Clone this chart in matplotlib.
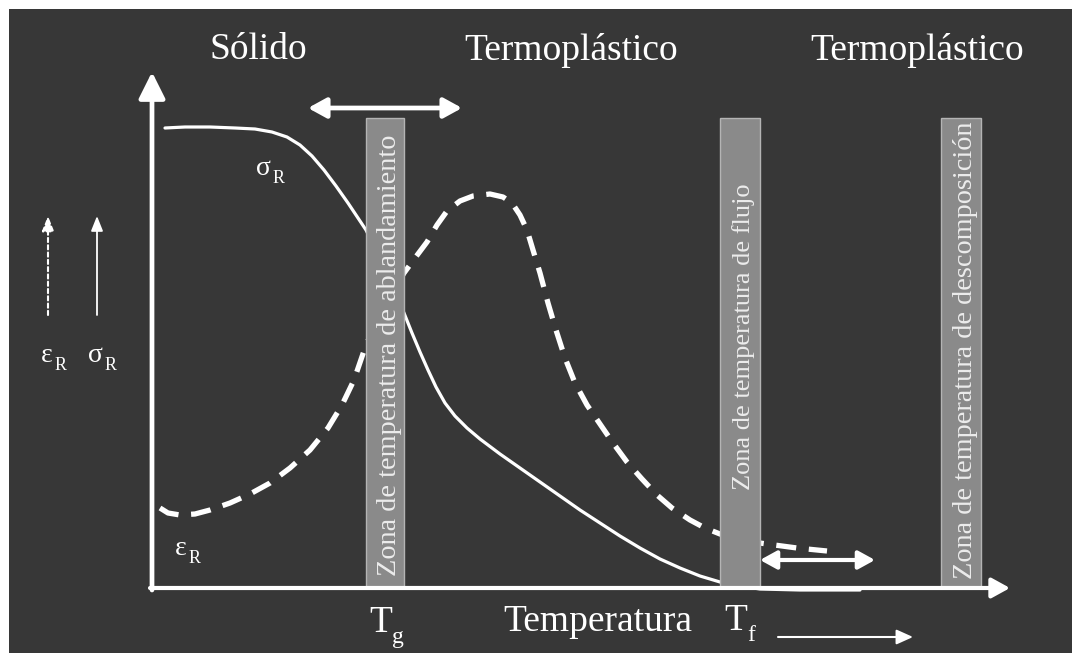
import matplotlib
matplotlib.use('Agg')
import matplotlib.pyplot as plt
import matplotlib.patches as mpatches

# units: pixels measured from the axis origin (temperature right, property up)
sigma_x = [13, 33, 58, 83, 103, 120, 135, 148, 160, 172, 184, 196, 208, 214, 233, 252, 260, 268, 276, 284,
           293, 303, 315, 328, 348, 368, 388, 408, 428, 448, 468, 488, 508, 528, 548, 568, 588, 608, 648, 708]
sigma_y = [460, 461, 461, 460, 459, 456, 451, 443, 432, 418, 402, 385, 367, 358, 320, 275, 255, 236, 218, 201,
           185, 172, 160, 149, 134, 120, 106, 92, 78, 65, 52, 40, 29, 20, 12, 6, 2, -1, -2, -2]
eps_x = [8, 16, 28, 43, 58, 78, 98, 118, 138, 158, 176, 190, 202, 214, 233, 252, 263, 275, 285, 295, 308, 321,
         338, 351, 360, 368, 375, 381, 388, 396, 404, 413, 423, 435, 448, 461, 475, 490, 505, 520, 538, 553, 568,
         593, 615, 645, 675]
eps_y = [80, 75, 73, 74, 78, 85, 94, 105, 120, 138, 160, 183, 208, 243, 283, 315, 330, 346, 363, 377, 387, 392,
         394, 391, 385, 373, 358, 338, 315, 285, 258, 230, 205, 183, 164, 145, 126, 109, 93, 80, 68, 60, 54,
         47, 44, 40, 37]

zone_left = [214, 568, 789]
zone_width = [38, 40, 40]
zone_height = 470
zone_labels = ['Zona de temperatura de ablandamiento', 'Zona de temperatura de flujo',
               'Zona de temperatura de descomposición']
zone_text_y = [233, 251, 238]
zone_fontsize = [20.3, 19, 20.3]

region_labels = ['Sólido', 'Termoplástico', 'Termoplástico']
region_x = [106, 419, 765]

BG = '#373737'
FG = 'white'
plt.rcParams['font.family'] = ['Liberation Serif', 'DejaVu Serif']

fig = plt.figure(figsize=(10.72, 6.53), dpi=100, facecolor=BG)
# thin white frame on the top and left edges
fig.patches.append(mpatches.Rectangle((0, 1 - 9 / 653), 1, 9 / 653, transform=fig.transFigure,
                                      facecolor='white', edgecolor='none', zorder=-10))
fig.patches.append(mpatches.Rectangle((0, 0), 9 / 1072, 1, transform=fig.transFigure,
                                      facecolor='white', edgecolor='none', zorder=-10))
ax = fig.add_axes([152 / 1072, 65 / 653, 860 / 1072, 516 / 653])
ax.set_zorder(1)
ax.set_xlim(0, 860)
ax.set_ylim(0, 516)
ax.axis('off')

# curves
ax.plot(sigma_x, sigma_y, color=FG, lw=2.3, solid_joinstyle='round', solid_capstyle='round', zorder=2, clip_on=False)
ax.plot(eps_x, eps_y, color=FG, lw=3.8, dashes=(3.8, 2.4), dash_capstyle='butt', zorder=2, clip_on=False)

# zone bars
for (x0, w, lab, ty, fs) in zip(zone_left, zone_width, zone_labels, zone_text_y, zone_fontsize):
    ax.add_patch(mpatches.Rectangle((x0, 0), w, zone_height, facecolor='#8a8a8a', edgecolor='#b4b4b4',
                                    lw=1, zorder=3))
    ax.text(x0 + w / 2 + 4, ty, lab, rotation=90, ha='center', va='center', color='#ececec',
            fontsize=fs, zorder=4)

# axes with arrowheads
ax.add_patch(mpatches.FancyArrowPatch((0, -2), (0, 516), arrowstyle='-|>,head_length=1,head_width=0.5',
                                      mutation_scale=16, lw=3.4, color=FG, zorder=5, clip_on=False,
                                      shrinkA=0, shrinkB=0))
ax.add_patch(mpatches.FancyArrowPatch((-2, 0), (858, 0), arrowstyle='-|>,head_length=1,head_width=0.55',
                                      mutation_scale=11, lw=3.0, color=FG, zorder=5, clip_on=False,
                                      shrinkA=0, shrinkB=0))

# double arrows and small arrow
ax.add_patch(mpatches.FancyArrowPatch((156, 480), (310, 480), arrowstyle='<|-|>,head_length=1,head_width=0.55',
                                      mutation_scale=11, lw=3.4, color=FG, zorder=5, clip_on=False,
                                      shrinkA=0, shrinkB=0))
ax.add_patch(mpatches.FancyArrowPatch((608, 28), (723, 28), arrowstyle='<|-|>,head_length=1,head_width=0.55',
                                      mutation_scale=10, lw=3.0, color=FG, zorder=5, clip_on=False,
                                      shrinkA=0, shrinkB=0))
ax.add_patch(mpatches.FancyArrowPatch((626, -49), (761, -49), arrowstyle='-|>,head_length=1,head_width=0.45',
                                      mutation_scale=10, lw=1.5, color=FG, zorder=5, clip_on=False,
                                      shrinkA=0, shrinkB=0))

# legend arrows at the left
ax.add_patch(mpatches.FancyArrowPatch((-104, 273), (-104, 372), arrowstyle='-|>,head_length=1,head_width=0.4',
                                      mutation_scale=9, lw=1.5, color=FG, linestyle=(0, (2, 1.5)),
                                      zorder=5, clip_on=False, shrinkA=0, shrinkB=0))
ax.add_patch(mpatches.FancyArrowPatch((-55, 273), (-55, 372), arrowstyle='-|>,head_length=1,head_width=0.4',
                                      mutation_scale=9, lw=1.3, color=FG, zorder=5, clip_on=False,
                                      shrinkA=0, shrinkB=0))


def sub_label(x, y, base, sub, size, subsize, dx=1, dy=-6):
    ax.text(x, y, base, ha='right', va='baseline', color=FG, fontsize=size, clip_on=False)
    ax.annotate(sub, xy=(x, y), xytext=(dx, dy), textcoords='offset points', ha='left', va='baseline',
                color=FG, fontsize=subsize, annotation_clip=False)


sub_label(-99, 226, 'ε', 'R', 20, 13)
sub_label(-49, 226, 'σ', 'R', 20, 13)
sub_label(119, 413, 'σ', 'R', 20, 13)
sub_label(35, 33, 'ε', 'R', 20, 13)
sub_label(240, -44, 'T', 'g', 27, 17, dx=0, dy=-8)
sub_label(595, -42, 'T', 'f', 27, 17, dx=0, dy=-8)
ax.text(446, -34, 'Temperatura', ha='center', va='center', color=FG, fontsize=27, clip_on=False)

for (lab, x) in zip(region_labels, region_x):
    ax.text(x, 538, lab, ha='center', va='center', color=FG, fontsize=27, clip_on=False)

fig.savefig('out.png', dpi=100, facecolor=fig.get_facecolor())
